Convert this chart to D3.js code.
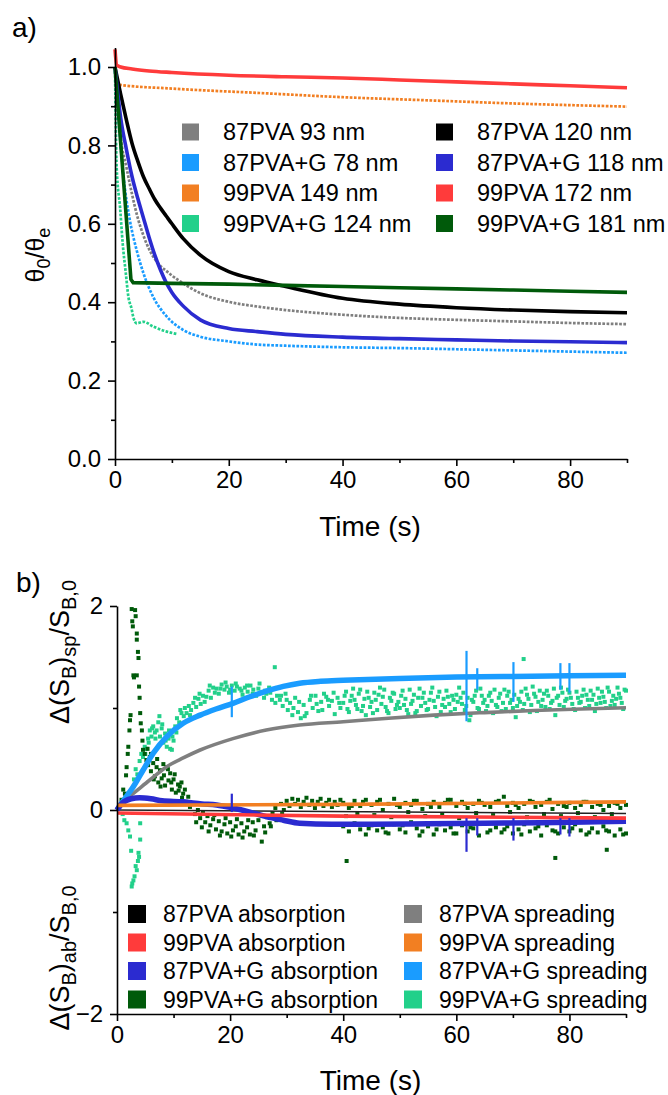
<!DOCTYPE html>
<html>
<head>
<meta charset="utf-8">
<title>Contact angle relaxation and drop spreading</title>
<script src="https://cdn.jsdelivr.net/npm/d3@7"></script>
<style>
  body { margin: 0; background: #fff; }
  svg text { font-family: "Liberation Sans", Arial, sans-serif; fill: #000; }
</style>
</head>
<body>
<div id="container"></div>
<script>
// ---- panel a) : theta0/thetae vs time ----
var tTop = [0, 1, 2, 3, 4, 5, 6, 7, 8, 9, 10, 12, 15, 20, 25, 30, 40, 50, 60, 70, 80, 90];
var pva87_120 = [1.0, 0.93, 0.865, 0.805, 0.76, 0.72, 0.69, 0.662, 0.64, 0.62, 0.60, 0.562, 0.52, 0.478, 0.457, 0.44, 0.41, 0.395, 0.386, 0.38, 0.376, 0.373];
var pva87g_118 = [1.0, 0.87, 0.79, 0.72, 0.665, 0.615, 0.565, 0.52, 0.482, 0.45, 0.425, 0.39, 0.355, 0.333, 0.325, 0.318, 0.311, 0.307, 0.304, 0.301, 0.299, 0.297];
var pva87_93 = [1.0, 0.82, 0.745, 0.675, 0.615, 0.57, 0.535, 0.51, 0.492, 0.48, 0.468, 0.448, 0.423, 0.401, 0.389, 0.38, 0.368, 0.36, 0.355, 0.351, 0.347, 0.344];

var tRed = [0, 0.3, 1, 3, 6, 10, 20, 30, 40, 50, 60, 70, 80, 90];
var pva99_172 = [1.045, 1.005, 1.0, 0.995, 0.99, 0.986, 0.979, 0.975, 0.972, 0.967, 0.962, 0.957, 0.952, 0.947];

var tOrange = [0, 0.5, 10, 25, 40, 55, 70, 90];
var pva99_149 = [0.957, 0.955, 0.945, 0.934, 0.923, 0.915, 0.907, 0.899];

var tLightBlue = [0, 0.6, 1.5, 2.6, 3.8, 5, 6.7, 9, 12, 15, 20, 25, 30, 40, 50, 60, 70, 80, 90];
var pva87g_78 = [1.0, 0.873, 0.72, 0.61, 0.533, 0.474, 0.414, 0.365, 0.329, 0.312, 0.3, 0.292, 0.289, 0.285, 0.283, 0.28, 0.277, 0.274, 0.271];

var tTeal = [0, 0.3, 0.9, 1.35, 1.9, 2.35, 2.9, 3.2, 3.8, 5, 6.7, 9.1, 10.8];
var pva99g_124 = [1.0, 0.742, 0.64, 0.55, 0.474, 0.414, 0.384, 0.363, 0.346, 0.35, 0.338, 0.325, 0.319];

var tGreen = [0, 2.8, 3.2, 10, 20, 30, 40, 50, 60, 70, 80, 90];
var pva99g_181 = [1.0, 0.458, 0.45, 0.448, 0.446, 0.443, 0.44, 0.437, 0.434, 0.431, 0.428, 0.425];

var legendTop = ["87PVA 93 nm", "87PVA+G 78 nm", "99PVA 149 nm", "99PVA+G 124 nm",
                 "87PVA 120 nm", "87PVA+G 118 nm", "99PVA 172 nm", "99PVA+G 181 nm"];

// ---- panel b) : normalised base area change vs time ----
var tGraySp = [0, 0.8, 2.9, 5.8, 8.8, 11.7, 14.7, 20.5, 26.4, 32.3, 40, 48, 56, 65, 73.7, 82, 90];
var sp87 = [0, 0.07, 0.163, 0.294, 0.425, 0.51, 0.588, 0.70, 0.784, 0.833, 0.865, 0.9, 0.93, 0.955, 0.975, 0.99, 1.003];

var tBlueSp = [0, 0.8, 2.9, 4.6, 6.4, 8.8, 11.7, 14.7, 17.5, 20.5, 23.5, 26.4, 29.4, 32.3, 36, 40, 50, 60, 70, 80, 90];
var sp87g = [0, 0.066, 0.23, 0.39, 0.556, 0.72, 0.85, 0.93, 0.99, 1.046, 1.11, 1.165, 1.212, 1.243, 1.262, 1.272, 1.29, 1.303, 1.31, 1.315, 1.32];
var sp87gSpikeT = [20.3, 61.8, 63.7, 70.1, 78.4, 80.0];
var sp87gSpikeHi = [1.21, 1.56, 1.39, 1.45, 1.44, 1.44];
var sp87gSpikeLo = [0.91, 0.87, 1.18, 1.06, 1.18, 1.15];

var tOrangeSp = [0, 40, 90];
var sp99 = [0.045, 0.055, 0.08];

var tBlackAb = [0, 90];
var ab87 = [0, -0.035];

var tRedAb = [0, 40, 90];
var ab99 = [-0.03, -0.06, -0.08];

var tBlueAb = [0, 1, 2.5, 4, 6, 8, 11.7, 15, 17.6, 20.5, 23.5, 26.4, 29.4, 32.3, 38, 45, 55, 65, 75, 85, 90];
var ab87g = [0, 0.07, 0.11, 0.12, 0.11, 0.09, 0.08, 0.06, 0.05, 0.02, -0.02, -0.065, -0.1, -0.13, -0.14, -0.14, -0.135, -0.13, -0.125, -0.115, -0.11];
var ab87gSpikeT = [20.3, 61.8, 63.7, 70.1, 78.4, 80.0];
var ab87gSpikeHi = [0.16, -0.08, -0.08, -0.08, -0.08, -0.08];
var ab87gSpikeLo = [-0.02, -0.41, -0.25, -0.3, -0.24, -0.26];

var sp99gPts = [
  [1.0,-0.04],[1.3,-0.1],[1.7,-0.13],[2.0,-0.2],[2.3,-0.26],[2.5,-0.4],[2.6,-0.75],[2.7,-0.72],[2.9,-0.69],[3.1,-0.65],
  [3.3,-0.55],[3.5,-0.59],[3.7,-0.5],[3.9,-0.46],[3.8,-0.42],[4.1,-0.29],[4.1,-0.13],
  [3.0,0.3],[3.3,0.4],[3.6,0.35],[4.0,0.48],[4.3,0.55],[4.6,0.52],[4.9,0.62],[5.2,0.6],[5.5,0.7],[5.8,0.78],[6.1,0.72],
  [6.4,0.82],[6.7,0.76],[7.0,0.78],[7.3,0.86],[7.6,0.72],[7.9,0.8],[8.2,0.66],[8.5,0.75],[8.8,0.62],[9.1,0.7],[9.4,0.6],
  [9.7,0.59],[10.0,0.68],[10.3,0.82],[10.6,0.9],[11.0,0.86],[11.4,0.95],[11.8,0.92],[12.3,0.95],[12.7,1.02],[13.1,0.98],
  [13.5,1.05],[14.0,1.01],[14.4,1.09],[14.8,1.04],[15.2,1.12],[15.8,1.11],[16.2,1.17],[16.6,1.1],[17.0,1.2],[17.6,1.19],
  [18.0,1.14],[18.5,1.23],[19.0,1.18],[19.4,1.21],[19.8,1.15],[20.3,1.22],[20.8,1.17],[21.2,1.21],[21.7,1.19],[22.2,1.13],
  [22.6,1.2],[23.1,1.16],[23.6,1.22],[24.1,1.18],[24.6,1.12],[25.0,1.19],[25.5,1.15],[26.0,1.1],[26.4,1.14],[26.9,1.2],
  [27.4,1.08],[27.9,1.40],[28.3,1.12],[28.8,1.08],[29.3,1.02],[29.8,1.14],[30.2,0.98],[30.6,1.05],[31.0,0.93],[31.5,1.1],
  [32.0,0.96],[32.5,0.9],[33.0,1.03],[33.5,0.95],[34.1,1.08],[34.6,1.0],[35.1,1.12],[35.6,0.97],[36.1,1.06],[36.6,1.14],
  [37.0,1.11],[37.5,1.02],[38.0,1.07],[38.5,0.94],[39.0,1.1],[39.5,1.0],
  [5.0,0.55],[5.6,0.66],[6.2,0.8],[6.8,0.7],[7.5,0.92],[8.0,0.84],[8.6,0.68],[9.2,0.78],[9.8,0.72],[10.5,0.76],
  [11.2,0.98],[12.0,1.0],[12.9,0.93],[13.8,1.1],[14.6,1.14],[15.5,1.06],[16.4,1.22],[17.3,1.15],[18.3,1.19],[19.2,1.25],
  [20.0,1.18],[21.0,1.24],[22.0,1.17],[23.0,1.22],[24.0,1.14],[25.2,1.24],[26.2,1.17],[27.1,1.15],[28.0,1.05],[29.0,1.12],
  [30.0,1.08],[31.2,1.0],[32.2,1.06],[33.2,0.92],[34.3,1.12],[35.3,1.04],[36.3,0.98],[37.3,1.08],[38.3,1.15],[39.3,1.05],
  [40,1.05],[40.5,1.16],[41,0.96],[41.5,1.12],[42,1.08],[42.5,0.99],[43,1.18],[43.5,1.02],[44,0.93],[44.5,1.1],
  [45,1.06],[45.5,1.15],[46,0.98],[46.5,1.2],[47,1.11],[47.5,1.01],[48,0.95],[48.5,1.07],[49,1.14],[49.5,1.03],
  [50,1.0],[50.5,1.17],[51,1.09],[51.5,0.94],[52,1.04],[52.5,1.13],[53,0.97],[53.5,1.19],[54,1.1],[54.5,1.05],
  [55,0.99],[55.5,1.15],[56,1.07],[56.5,0.92],[57,1.16],[57.5,1.03],[58,1.01],[58.5,1.11],[59,0.96],[59.5,1.08],
  [60,1.13],[60.5,1.2],[61,1.04],[61.5,0.98],[62,1.1],[62.3,0.88],[62.5,0.93],[63,1.06],[63.5,1.17],[64,0.99],
  [64.5,1.12],[65,1.08],[65.5,1.02],[66,1.15],[66.5,0.95],[67,1.03],[67.5,1.1],[68,0.97],[68.5,1.18],[69,1.12],
  [69.5,1.05],[70,1.0],[70.5,0.91],[71,1.09],[71.5,1.16],[71.9,1.48],[72,1.04],[72.5,1.13],[73,0.96],[73.5,1.21],
  [74,1.11],[74.5,1.06],[75,1.02],[75.5,1.14],[76,1.17],[76.5,0.99],[77,1.07],[77.5,0.93],[78,1.12],[78.5,1.2],
  [79,1.01],[79.5,1.09],[80,1.15],[80.5,1.04],[81,0.98],[81.5,1.1],[82,1.06],[82.5,1.18],[83,1.13],[83.5,1.02],
  [84,1.08],[84.5,0.97],[85,1.19],[85.5,1.05],[86,1.11],[86.5,1.0],[87,1.16],[87.5,1.07],[88,1.03],[88.5,1.2],
  [89,1.1],[89.5,0.99],[90,1.17],
  [40.25,1.12],[40.75,0.99],[41.25,1.07],[41.75,1.19],[42.25,1.03],[42.75,1.14],[43.25,0.97],[43.75,1.09],[44.25,1.16],[44.75,1.01],
  [45.25,0.95],[45.75,1.08],[46.25,1.13],[46.75,1.04],[47.25,1.18],[47.75,0.97],[48.25,1.1],[48.75,1.15],[49.25,0.99],[49.75,1.06],
  [50.25,1.12],[50.75,1.03],[51.25,0.98],[51.75,1.18],[52.25,1.07],[52.75,0.95],[53.25,1.1],[53.75,1.02],[54.25,1.15],[54.75,0.98],
  [55.25,1.08],[55.75,1.2],[56.25,1.01],[56.75,1.11],[57.25,0.96],[57.75,1.09],[58.25,1.17],[58.75,1.04],[59.25,1.12],[59.75,0.99],
  [60.25,1.06],[60.75,1.1],[61.25,1.15],[61.75,1.02],[62.75,1.08],[63.25,1.12],[63.75,1.0],[64.25,1.19],[64.75,1.05],
  [65.25,0.97],[65.75,1.12],[66.25,1.07],[66.75,1.18],[67.25,1.01],[67.75,1.14],[68.25,1.05],[68.75,0.99],[69.25,1.16],[69.75,1.08],
  [70.25,1.13],[70.75,1.02],[71.25,1.06],[71.75,0.98],[72.25,1.19],[72.75,1.09],[73.25,1.03],[73.75,1.14],[74.25,0.97],[74.75,1.17],
  [75.25,1.08],[75.75,1.01],[76.25,1.12],[76.75,1.05],[77.25,1.19],[77.75,1.1],[78.25,1.03],[78.75,1.15],[79.25,1.07],[79.75,1.18],
  [80.25,1.1],[80.75,0.99],[81.25,1.16],[81.75,1.05],[82.25,1.12],[82.75,1.0],[83.25,1.08],[83.75,1.17],[84.25,1.13],[84.75,1.04],
  [85.25,1.1],[85.75,1.16],[86.25,1.06],[86.75,1.2],[87.25,1.02],[87.75,1.12],[88.25,1.09],[88.75,1.14],[89.25,1.05],[89.75,1.18]
];

var ab99gPts = [
  [0.4,0.05],[0.8,0.1],[1.1,0.2],[1.4,0.16],[1.6,0.34],[1.7,0.42],[1.9,0.55],[2.0,0.62],[2.2,0.78],[2.3,0.88],
  [2.4,0.93],[2.6,1.97],[2.7,1.85],[2.8,1.8],[2.9,1.32],[3.0,1.3],[3.2,1.96],[3.3,1.9],[3.5,1.73],[3.5,1.67],
  [3.5,1.32],[3.7,1.55],[3.8,1.49],[3.9,1.21],[4.0,1.1],[4.1,0.95],[4.2,0.85],[4.4,0.78],[4.5,0.68],[4.6,0.59],
  [4.9,0.55],[5.2,0.49],[5.5,0.44],[5.8,0.52],[6.0,0.38],[6.4,0.46],[6.7,0.33],[7.0,0.42],[7.3,0.27],[7.6,0.39],
  [7.9,0.31],[8.2,0.45],[8.5,0.24],[8.8,0.42],[9.1,0.29],[9.4,0.36],[9.7,0.2],[10.0,0.3],[10.4,0.17],[10.8,0.25],
  [11.1,0.23],[11.5,0.12],[11.7,0.16],[12.2,0.08],[12.6,0.13],[12.9,0.03],[13.5,0.065],[13.8,-0.04],[14.3,0.0],[14.7,-0.08],
  [5.4,0.6],[6.0,0.55],[6.5,0.3],[7.1,0.5],[7.7,0.23],[8.3,0.34],[9.0,0.4],[9.6,0.27],[10.2,0.35],[10.9,0.19],[11.4,0.27],[12.0,0.2],
  [15.2,-0.03],[15.6,-0.12],[16.0,-0.06],[16.5,-0.15],[17.0,-0.09],[17.5,-0.19],[18.0,-0.11],[18.5,-0.21],[19.0,-0.14],[19.5,-0.23],
  [20.0,-0.12],[20.5,-0.2],[21.0,-0.16],[21.5,-0.24],[22.0,-0.13],[22.5,-0.21],[23.0,-0.17],[23.5,-0.24],[24.0,-0.12],[24.5,-0.2],
  [25.0,-0.1],[25.6,-0.31],[26.0,-0.16],[26.5,-0.07],[27.0,-0.13],[27.5,-0.03],[28.0,0.02],[28.5,-0.06],[29.0,0.06],[29.5,0.0],
  [14.0,-0.12],[15.0,-0.17],[16.2,-0.21],[17.2,-0.05],[18.2,-0.25],[19.2,-0.08],[20.2,-0.26],[21.2,-0.09],[22.2,-0.27],[23.2,-0.1],
  [24.2,-0.25],[25.2,-0.05],[26.2,-0.22],[27.2,-0.16],[28.2,-0.1],[29.2,-0.04],
  [30.0,0.09],[30.5,0.04],[31.0,0.11],[31.5,0.06],[32.0,0.1],[32.5,0.03],[33.0,0.08],[33.5,0.12],[34.0,0.05],[34.5,0.09],
  [35.0,0.02],[35.5,0.08],[36.0,0.11],[36.5,0.04],[37.0,0.07],[37.5,0.1],[38.0,0.03],[38.5,0.08],[39.0,0.05],[39.5,0.1],
  [40,0.07],[40,-0.16],[40.6,-0.5],[41,0.02],[41,-0.21],[42,0.09],[42,-0.13],[43,0.04],[43,-0.19],[44,0.1],[44,-0.24],
  [45,0.05],[45,-0.15],[46,0.08],[46,-0.2],[47,0.0],[47,-0.17],[48,0.06],[48,-0.23],[49,0.11],[49,-0.14],
  [50,0.03],[50,-0.19],[51,0.07],[51,-0.22],[52,0.05],[52,-0.12],[53,0.09],[53,-0.18],[54,0.01],[54,-0.21],
  [55,0.06],[55,-0.16],[56,0.08],[56,-0.24],[57,0.03],[57,-0.14],[58,0.07],[58,-0.2],[59,0.1],[59,-0.17],
  [60,0.04],[60,-0.23],[61,0.08],[61,-0.15],[62,0.02],[62,-0.21],[63,0.06],[63,-0.18],[64,0.09],[64,-0.25],
  [65,0.05],[65,-0.13],[66,0.03],[66,-0.2],[67,0.08],[67,-0.17],[68.4,0.13],[68,-0.22],[69,0.04],[69,-0.16],
  [70,0.07],[70,-0.23],[71,0.02],[71,-0.19],[72,0.06],[72,-0.14],[73,0.09],[73,-0.21],[74,0.03],[74,-0.18],
  [75,0.05],[75,-0.25],[76,0.08],[76,-0.15],[77,0.01],[77,-0.2],[77.5,-0.47],[78,0.06],[78,-0.23],[79,0.04],[79,-0.17],
  [80,0.07],[80,-0.21],[81,0.02],[81,-0.14],[82,0.05],[82,-0.2],[83,0.08],[83,-0.24],[84,0.03],[84,-0.18],
  [85,0.06],[85,-0.22],[86,0.0],[86,-0.16],[86.6,-0.39],[87,0.04],[87,-0.21],[88,0.07],[88,-0.25],[89,0.02],[89,-0.19],
  [90,0.05],[90,-0.23],
  [40.5,-0.06],[41.5,0.04],[42.5,-0.03],[43.5,0.08],[44.5,-0.18],[45.5,-0.05],[46.5,0.1],[47.5,-0.22],[48.5,-0.07],[49.5,0.05],
  [50.5,-0.15],[51.5,-0.02],[52.5,0.09],[53.5,-0.25],[54.5,-0.06],[55.5,0.03],[56.5,-0.19],[57.5,-0.04],[58.5,0.1],[59.5,-0.23],
  [60.5,-0.08],[61.5,0.06],[62.5,-0.17],[63.5,-0.03],[64.5,0.07],[65.5,-0.22],[66.5,-0.05],[67.5,0.09],[68.5,-0.19],[69.5,-0.02],
  [70.5,0.05],[71.5,-0.24],[72.5,-0.07],[73.5,0.08],[74.5,-0.16],[75.5,-0.04],[76.5,0.1],[77.5,-0.21],[78.5,-0.06],[79.5,0.03],
  [80.5,-0.18],[81.5,-0.03],[82.5,0.08],[83.5,-0.22],[84.5,-0.07],[85.5,0.05],[86.5,-0.2],[87.5,-0.04],[88.5,0.06],[89.5,-0.24]
];

var legendBottom = ["87PVA absorption", "99PVA absorption", "87PVA+G absorption", "99PVA+G absorption",
                    "87PVA spreading", "99PVA spreading", "87PVA+G spreading", "99PVA+G spreading"];

var xTicks = [0, 20, 40, 60, 80];

function zip(ts, vs) {
  return ts.map(function (t, i) { return [t, vs[i]]; });
}

function main() {
  var width = 668, height = 1095;
  var svg = d3.select("#container").append("svg")
    .attr("width", width)
    .attr("height", height);

  var col = {
    gray: "#7f7f7f", lightBlue: "#1a9cff", orange: "#f27f22", teal: "#22d08a",
    black: "#000000", blue: "#2b2bd0", red: "#ff3b3b", green: "#005a0a"
  };

  function drawAxes(g, x, y, yMajor, yMinor, yFmt, xLabelY) {
    var xAxisY = y.range()[0];
    // minor x ticks
    g.append("g").attr("transform", "translate(0," + xAxisY + ")")
      .call(d3.axisBottom(x).tickValues(d3.range(10, 91, 20)).tickSize(4).tickSizeOuter(0).tickFormat(""))
      .call(function (a) { a.select(".domain").remove(); });
    var xa = g.append("g").attr("transform", "translate(0," + xAxisY + ")")
      .call(d3.axisBottom(x).tickValues(xTicks).tickSize(7).tickSizeOuter(0).tickPadding(5));
    xa.selectAll("text").style("font-size", "24px").attr("fill", "#000");
    // minor y ticks
    g.append("g").attr("transform", "translate(" + x.range()[0] + ",0)")
      .call(d3.axisLeft(y).tickValues(yMinor).tickSize(4).tickSizeOuter(0).tickFormat(""))
      .call(function (a) { a.select(".domain").remove(); });
    var ya = g.append("g").attr("transform", "translate(" + x.range()[0] + ",0)")
      .call(d3.axisLeft(y).tickValues(yMajor).tickSize(7).tickSizeOuter(0).tickPadding(7).tickFormat(yFmt));
    ya.selectAll("text").style("font-size", "24px").attr("fill", "#000");
    g.selectAll(".domain, .tick line").attr("stroke", "#000").attr("stroke-width", 1.6);
    g.append("text")
      .attr("x", (x.range()[0] + x.range()[1]) / 2 - 1)
      .attr("y", xLabelY)
      .attr("text-anchor", "middle")
      .style("font-size", "28px")
      .text("Time (s)");
  }

  // ================= panel a) =================
  var ga = svg.append("g");
  var xA = d3.scaleLinear().domain([0, 90]).range([115, 627]);
  var yA = d3.scaleLinear().domain([0, 1.05]).range([459, 47.4]);

  var lineA = d3.line().x(function (d) { return xA(d[0]); }).y(function (d) { return yA(d[1]); })
    .curve(d3.curveMonotoneX);
  var lineALin = d3.line().x(function (d) { return xA(d[0]); }).y(function (d) { return yA(d[1]); });

  var seriesA = [
    { pts: zip(tTop, pva87_93), color: col.gray, dotted: true },
    { pts: zip(tLightBlue, pva87g_78), color: col.lightBlue, dotted: true },
    { pts: zip(tOrange, pva99_149), color: col.orange, dotted: true },
    { pts: zip(tTeal, pva99g_124), color: col.teal, dotted: true },
    { pts: zip(tTop, pva87_120), color: col.black },
    { pts: zip(tTop, pva87g_118), color: col.blue },
    { pts: zip(tRed, pva99_172), color: col.red },
    { pts: zip(tGreen, pva99g_181), color: col.green, linear: true }
  ];

  ga.selectAll("path.series").data(seriesA).enter().append("path")
    .attr("class", "series")
    .attr("fill", "none")
    .attr("stroke", function (d) { return d.color; })
    .attr("stroke-width", function (d) { return d.dotted ? 2.7 : 3.6; })
    .attr("stroke-dasharray", function (d) { return d.dotted ? "2.7,1.5" : null; })
    .attr("d", function (d) { return d.linear ? lineALin(d.pts) : lineA(d.pts); });

  drawAxes(ga, xA, yA, [0, 0.2, 0.4, 0.6, 0.8, 1.0], [0.1, 0.3, 0.5, 0.7, 0.9], d3.format(".1f"), 536);

  // legend a)
  var legColorsA = [col.gray, col.lightBlue, col.orange, col.teal, col.black, col.blue, col.red, col.green];
  var legA = ga.selectAll("g.leg").data(legendTop).enter().append("g")
    .attr("class", "leg")
    .attr("transform", function (d, i) {
      var c = Math.floor(i / 4), r = i % 4;
      return "translate(" + (c === 0 ? 182 : 436) + "," + (132 + r * 30.5) + ")";
    });
  legA.append("rect").attr("x", 0).attr("y", -8.5).attr("width", 17).attr("height", 17)
    .attr("fill", function (d, i) { return legColorsA[i]; });
  legA.append("text").attr("x", 41).attr("y", 0).attr("dy", "0.36em")
    .style("font-size", "23.5px").text(function (d) { return d; });

  // y title a)
  var tA = ga.append("text")
    .attr("transform", "translate(44,255) rotate(-90)")
    .attr("text-anchor", "middle")
    .style("font-size", "25px");
  tA.append("tspan").text("θ");
  tA.append("tspan").attr("dy", 6).style("font-size", "18px").text("0");
  tA.append("tspan").attr("dy", -6).text("/θ");
  tA.append("tspan").attr("dy", 6).style("font-size", "18px").text("e");

  svg.append("text").attr("x", 12).attr("y", 37).style("font-size", "28px").text("a)");

  // ================= panel b) =================
  var gb = svg.append("g");
  var xB = d3.scaleLinear().domain([0, 90]).range([117, 626]);
  var yB = d3.scaleLinear().domain([-2, 2]).range([1014, 606]);

  var lineB = d3.line().x(function (d) { return xB(d[0]); }).y(function (d) { return yB(d[1]); })
    .curve(d3.curveMonotoneX);

  // scatter sets
  gb.selectAll("rect.teal").data(sp99gPts).enter().append("rect")
    .attr("class", "teal")
    .attr("x", function (d) { return xB(d[0]) - 2; })
    .attr("y", function (d) { return yB(d[1]) - 2; })
    .attr("width", 4).attr("height", 4)
    .attr("fill", col.teal);

  gb.selectAll("rect.dg").data(ab99gPts).enter().append("rect")
    .attr("class", "dg")
    .attr("x", function (d) { return xB(d[0]) - 2; })
    .attr("y", function (d) { return yB(d[1]) - 2; })
    .attr("width", 4).attr("height", 4)
    .attr("fill", col.green);

  var seriesB = [
    { pts: zip(tGraySp, sp87), color: col.gray, w: 3.6 },
    { pts: zip(tBlueSp, sp87g), color: col.lightBlue, w: 5.5 },
    { pts: zip(tBlackAb, ab87), color: "#222", w: 1.6 },
    { pts: zip(tBlueAb, ab87g), color: col.blue, w: 5.5 },
    { pts: zip(tRedAb, ab99), color: col.red, w: 3.6 },
    { pts: zip(tOrangeSp, sp99), color: col.orange, w: 3.6 }
  ];

  gb.selectAll("path.series").data(seriesB).enter().append("path")
    .attr("class", "series")
    .attr("fill", "none")
    .attr("stroke", function (d) { return d.color; })
    .attr("stroke-width", function (d) { return d.w; })
    .attr("d", function (d) { return lineB(d.pts); });

  // noise spikes on the +G curves
  function spikes(ts, hi, lo, color) {
    gb.selectAll(null).data(ts).enter().append("line")
      .attr("x1", function (d) { return xB(d); })
      .attr("x2", function (d) { return xB(d); })
      .attr("y1", function (d, i) { return yB(hi[i]); })
      .attr("y2", function (d, i) { return yB(lo[i]); })
      .attr("stroke", color).attr("stroke-width", 2.2);
  }
  spikes(sp87gSpikeT, sp87gSpikeHi, sp87gSpikeLo, col.lightBlue);
  spikes(ab87gSpikeT, ab87gSpikeHi, ab87gSpikeLo, col.blue);

  drawAxes(gb, xB, yB, [-2, 0, 2], [-1, 1], d3.format("d"), 1090);

  // legend b)
  var legColorsB = [col.black, col.red, col.blue, col.green, col.gray, col.orange, col.lightBlue, col.teal];
  var legB = gb.selectAll("g.leg").data(legendBottom).enter().append("g")
    .attr("class", "leg")
    .attr("transform", function (d, i) {
      var c = Math.floor(i / 4), r = i % 4;
      return "translate(" + (c === 0 ? 128 : 404) + "," + (914 + r * 28.5) + ")";
    });
  legB.append("rect").attr("x", 0).attr("y", -9).attr("width", 18).attr("height", 18)
    .attr("fill", function (d, i) { return legColorsB[i]; });
  legB.append("text").attr("x", 35).attr("y", 0).attr("dy", "0.36em")
    .style("font-size", "23px").text(function (d) { return d; });

  // y titles b)
  function areaTitle(cy, sub) {
    var t = gb.append("text")
      .attr("transform", "translate(69," + cy + ") rotate(-90)")
      .attr("text-anchor", "middle")
      .style("font-size", "27px");
    t.append("tspan").text("Δ(S");
    t.append("tspan").attr("dy", 7).style("font-size", "20px").text("B");
    t.append("tspan").attr("dy", -7).text(")");
    t.append("tspan").attr("dy", 7).style("font-size", "20px").text(sub);
    t.append("tspan").attr("dy", -7).text("/S");
    t.append("tspan").attr("dy", 7).style("font-size", "20px").text("B,0");
  }
  areaTitle(652, "sp");
  areaTitle(958, "ab");

  svg.append("text").attr("x", 16).attr("y", 592).style("font-size", "28px").text("b)");
}

window.onload = main;
</script>
</body>
</html>
